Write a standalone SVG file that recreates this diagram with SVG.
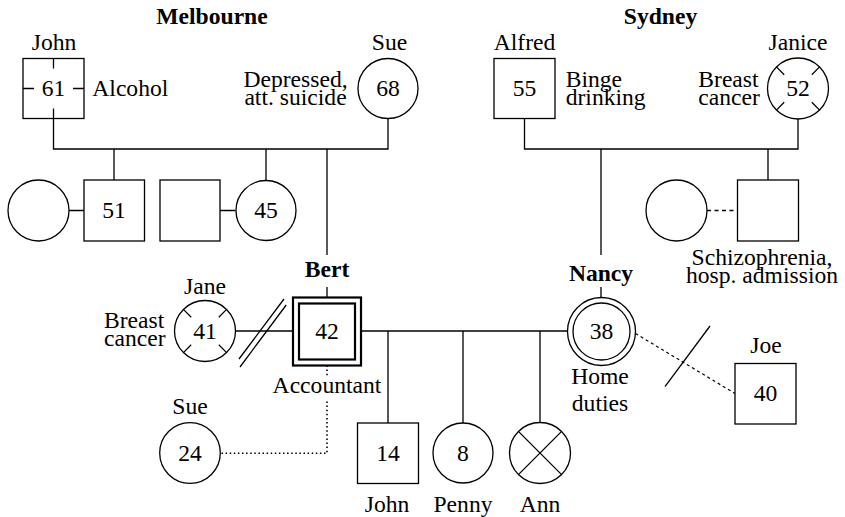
<svg xmlns="http://www.w3.org/2000/svg" width="845" height="517" viewBox="0 0 845 517">
  <style>
    text { font-family: "Liberation Serif", "Times New Roman", Times, "Nimbus Roman", "DejaVu Serif", serif; font-size: 23.6px; fill: #000; }
    .c { text-anchor: middle; }
    .s { text-anchor: start; }
    .b { font-weight: bold; }
    .shape { fill: #fff; stroke: #000; stroke-width: 1.3; }
    .line { fill: none; stroke: #000; stroke-width: 1.3; }
    .dash { fill: none; stroke: #000; stroke-width: 1.3; stroke-dasharray: 4 3.5; }
    .fine { fill: none; stroke: #000; stroke-width: 1.2; stroke-dasharray: 3 3; }
    .dot { fill: none; stroke: #000; stroke-width: 1.6; stroke-dasharray: 1.5 2.6; }
    .thick { fill: #fff; stroke: #000; stroke-width: 2.2; }
  </style>
  <rect width="845" height="517" fill="#fff"/>

  <g font-family="Liberation Serif, Times New Roman, serif">
  <!-- family headings -->
  <text class="c b" x="212" y="24">Melbourne</text>
  <text class="c b" x="660.5" y="24">Sydney</text>

  <!-- connectors -->
  <g id="connectors">
    <path class="line" d="M53.5 118.5 V149 H388 V118.5"/>
    <path class="line" d="M114 149 V180 M266 149 V180 M327 149 V255 M327 287 V297.5"/>
    <path class="line" d="M69 210.5 H84 M220 210.5 H235.5"/>
    <path class="line" d="M524.5 118.5 V149 H798 V119"/>
    <path class="line" d="M601 149 V255 M601 287 V297.5 M768 149 V180"/>
    <path class="dash" d="M707 210.5 H737.5"/>
    <path class="line" d="M235.5 331 H293"/>
    <path class="line" d="M239 359 L284 299 M240 367 L286.2 305"/>
    <path class="line" d="M361 331 H567.5"/>
    <path class="line" d="M388 331 V423 M463 331 V423 M540 331 V423"/>
    <path class="fine" d="M635.5 333.5 L735 393.5"/>
    <path class="line" d="M665 386.7 L710 326"/>
    <path class="dot" d="M327 365.5 V377 M327 401.5 V453.3 H220.5"/>
  </g>

  <!-- Melbourne grandparents -->
  <g id="john-61">
    <rect class="shape" x="23" y="58.5" width="61" height="60"/>
    <path class="line" d="M53.5 58.5 V68.5 M53.5 108.5 V118.5 M23 88.5 H34 M73 88.5 H84"/>
    <text class="c" x="54" y="50">John</text>
    <text class="c" x="53.5" y="95.5">61</text>
    <text class="s" x="92.3" y="95.5">Alcohol</text>
  </g>
  <g id="sue-68">
    <circle class="shape" cx="388" cy="88.5" r="30"/>
    <text class="c" x="389.5" y="50">Sue</text>
    <text class="c" x="388" y="96">68</text>
    <text class="c" x="295.5" y="86.5">Depressed,</text>
    <text class="c" x="295.5" y="105">att. suicide</text>
  </g>

  <!-- Melbourne second generation -->
  <g id="spouse-of-51">
    <circle class="shape" cx="38.5" cy="210.5" r="30.5"/>
  </g>
  <g id="son-51">
    <rect class="shape" x="84" y="180" width="60.5" height="61"/>
    <text class="c" x="114" y="218">51</text>
  </g>
  <g id="spouse-of-45">
    <rect class="shape" x="160" y="180" width="60" height="61"/>
  </g>
  <g id="daughter-45">
    <circle class="shape" cx="266" cy="210.5" r="30"/>
    <text class="c" x="266" y="218">45</text>
  </g>

  <!-- Sydney grandparents -->
  <g id="alfred-55">
    <rect class="shape" x="494" y="58.5" width="61" height="60"/>
    <text class="c" x="524.5" y="50">Alfred</text>
    <text class="c" x="524.5" y="95.5">55</text>
    <text class="s" x="565.7" y="86.5">Binge</text>
    <text class="s" x="565.7" y="105">drinking</text>
  </g>
  <g id="janice-52">
    <circle class="shape" cx="798" cy="88.5" r="30.5"/>
    <path class="line" d="M784.2 74.7 L776.4 66.9 M811.8 74.7 L819.6 66.9 M784.2 102.3 L776.4 110.1 M811.8 102.3 L819.6 110.1"/>
    <text class="c" x="798" y="50">Janice</text>
    <text class="c" x="798" y="96">52</text>
    <text class="s" x="698.3" y="86.5">Breast</text>
    <text class="s" x="698.3" y="105">cancer</text>
  </g>

  <!-- Sydney second generation -->
  <g id="spouse-of-son">
    <circle class="shape" cx="676.5" cy="210.5" r="30.5"/>
  </g>
  <g id="son-schizophrenia">
    <rect class="shape" x="737.5" y="180" width="61" height="61"/>
    <text class="c" x="762" y="265">Schizophrenia,</text>
    <text class="c" x="762" y="283.3">hosp. admission</text>
  </g>

  <!-- Bert and partners -->
  <g id="jane-41">
    <circle class="shape" cx="205" cy="331" r="30.5"/>
    <path class="line" d="M191.2 317.2 L183.4 309.4 M218.8 317.2 L226.6 309.4 M191.2 344.8 L183.4 352.6 M218.8 344.8 L226.6 352.6"/>
    <text class="c" x="205" y="293.5">Jane</text>
    <text class="c" x="205" y="338.5">41</text>
    <text class="s" x="104" y="328">Breast</text>
    <text class="s" x="104" y="346">cancer</text>
  </g>
  <g id="bert-42">
    <rect class="thick" x="293" y="297.5" width="68" height="68" stroke-width="2"/>
    <rect class="thick" x="299" y="303.5" width="56" height="56"/>
    <text class="c b" x="327" y="277">Bert</text>
    <text class="c" x="327" y="339">42</text>
    <text class="c" x="327" y="392.7">Accountant</text>
  </g>
  <g id="sue-24">
    <circle class="shape" cx="190" cy="453" r="30.3"/>
    <text class="c" x="190" y="414">Sue</text>
    <text class="c" x="190" y="460.5">24</text>
  </g>

  <!-- Nancy and partner -->
  <g id="nancy-38">
    <circle class="shape" cx="601.5" cy="331.5" r="34" stroke-width="2"/>
    <circle class="shape" cx="601.5" cy="331.5" r="28.5" stroke-width="2"/>
    <text class="c b" x="601" y="280.5">Nancy</text>
    <text class="c" x="601.5" y="339">38</text>
    <text class="c" x="600" y="384">Home</text>
    <text class="c" x="600" y="410.7">duties</text>
  </g>
  <g id="joe-40">
    <rect class="shape" x="735" y="363.5" width="61" height="60.5"/>
    <text class="c" x="766" y="353.3">Joe</text>
    <text class="c" x="765.5" y="401.2">40</text>
  </g>

  <!-- children of Bert and Nancy -->
  <g id="john-14">
    <rect class="shape" x="357.5" y="423" width="61" height="60.5"/>
    <text class="c" x="388" y="460.5">14</text>
    <text class="c" x="387" y="512">John</text>
  </g>
  <g id="penny-8">
    <circle class="shape" cx="463" cy="453" r="30"/>
    <text class="c" x="463" y="460.5">8</text>
    <text class="c" x="463" y="512">Penny</text>
  </g>
  <g id="ann">
    <circle class="shape" cx="540" cy="453" r="30.5"/>
    <path class="line" d="M518.4 431.4 L561.6 474.6 M561.6 431.4 L518.4 474.6"/>
    <text class="c" x="540" y="512">Ann</text>
  </g>
  </g>
</svg>
